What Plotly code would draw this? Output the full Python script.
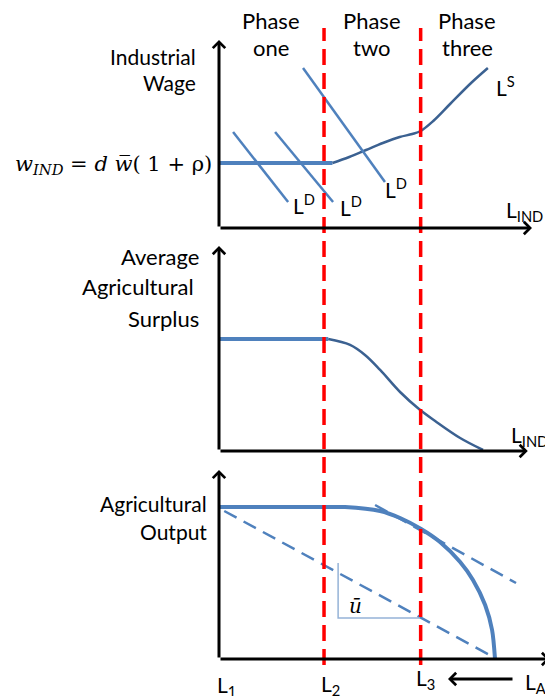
import plotly.graph_objects as go

# ==========================
# DATA  (labour on x, each panel's value on y, 0-100)
# ==========================
L_LABELS = ["L<sub>1</sub>", "L<sub>2</sub>", "L<sub>3</sub>"]
L_POS = [0, 50, 96]
PHASES = ["one", "two", "three"]

# top panel: industrial wage / labour supply & demand
wage_x = [0, 54]
wage_y = [32.5, 32.5]
ls_x = [54, 62, 70, 78, 86, 92, 96, 102, 110, 120, 128]
ls_y = [32.5, 35.5, 39, 42.5, 45.5, 47, 48.5, 53.5, 62, 72.5, 80]
ld_x = [[6.7, 32.9], [26.7, 54.3], [40, 79]]
ld_y = [[48, 13], [48, 13], [80, 23]]

# middle panel: average agricultural surplus
surplus_flat_x = [0, 52]
surplus_flat_y = [53.3, 53.3]
surplus_x = [52, 62.4, 69.5, 76.7, 86.2, 95.2, 102.9, 114.8, 125.7]
surplus_y = [53.3, 50.5, 45.7, 38.6, 28.1, 20, 14.3, 6.2, 0.5]

# bottom panel: agricultural output
output_x = [0, 55, 60, 76.7, 86.2, 96.2, 105.2, 114.8, 120.9, 126.7, 130, 131.4]
output_y = [76, 76, 76, 74, 70.5, 65, 58.5, 48.5, 39.5, 27, 14.5, 0]
avg_x = [2.5, 131.4]
avg_y = [74, 0.5]
tangent_x = [74.3, 141.4]
tangent_y = [77, 38]
tri_x = [56.7, 56.7, 95.7]
tri_y = [48, 20.5, 20.5]

# page body has an 8px margin, so the figure is 8px smaller and shifted
OFF = 8
W, H = 553 - OFF, 696 - OFF
BLUE = '#4f81bd'
DARK = '#3b6191'
FONT = 'Lato'


def px(x):
    return (x - OFF) / W


def py(y):
    return 1 - (y - OFF) / H


fig = go.Figure()

# ==========================
# TOP PANEL
# ==========================
fig.add_trace(go.Scatter(x=wage_x, y=wage_y, mode='lines',
                         line=dict(width=4, color=BLUE), xaxis='x', yaxis='y'))
fig.add_trace(go.Scatter(x=ls_x, y=ls_y, mode='lines',
                         line=dict(width=2.5, color=DARK, shape='spline'),
                         xaxis='x', yaxis='y'))
for xs, ys in zip(ld_x, ld_y):
    fig.add_trace(go.Scatter(x=xs, y=ys, mode='lines',
                             line=dict(width=2.5, color=BLUE), xaxis='x', yaxis='y'))

# ==========================
# MIDDLE PANEL
# ==========================
fig.add_trace(go.Scatter(x=surplus_flat_x, y=surplus_flat_y, mode='lines',
                         line=dict(width=4, color=BLUE), xaxis='x2', yaxis='y2'))
fig.add_trace(go.Scatter(x=surplus_x, y=surplus_y, mode='lines',
                         line=dict(width=2.5, color=DARK, shape='spline'),
                         xaxis='x2', yaxis='y2'))

# ==========================
# BOTTOM PANEL
# ==========================
fig.add_trace(go.Scatter(x=output_x, y=output_y, mode='lines',
                         line=dict(width=4, color=BLUE, shape='spline', smoothing=0.8),
                         xaxis='x3', yaxis='y3'))
fig.add_trace(go.Scatter(x=avg_x, y=avg_y, mode='lines',
                         line=dict(width=2.5, color=BLUE, dash='14px,8px'),
                         xaxis='x3', yaxis='y3'))
fig.add_trace(go.Scatter(x=tangent_x, y=tangent_y, mode='lines',
                         line=dict(width=2.5, color=BLUE, dash='14px,8px'),
                         xaxis='x3', yaxis='y3'))
fig.add_trace(go.Scatter(x=tri_x, y=tri_y, mode='lines',
                         line=dict(width=1.5, color='#95b3d7'),
                         xaxis='x3', yaxis='y3'))

# red phase boundaries across all panels
for lx in L_POS[1:]:
    fig.add_shape(type='line', xref='x', yref='paper', x0=lx, x1=lx,
                  y0=py(665), y1=py(28),
                  line=dict(color='#ff0000', width=3.5, dash='16px,8px'))

# ==========================
# AXES (arrows)
# ==========================
axes_tips = [('x', 'y', 149, 94), ('x2', 'y2', 147, 97.6), ('x3', 'y3', 157.6, 94.5)]
for xr, yr, xt, yt in axes_tips:
    for tip in [(xt, 0), (0, yt)]:
        fig.add_annotation(x=tip[0], y=tip[1], ax=0, ay=0, xref=xr, yref=yr,
                           axref=xr, ayref=yr, text='', showarrow=True,
                           arrowhead=4, arrowsize=0.8, arrowwidth=3, arrowcolor='black')

# L_AG -> L3 arrow
fig.add_annotation(x=px(448), y=py(679), xref='paper', yref='paper', ax=66, ay=0,
                   text='', showarrow=True, arrowhead=4, arrowsize=0.8,
                   arrowwidth=3, arrowcolor='black')


# ==========================
# TEXT
# ==========================
def note(text, x, y, xanchor='center', size=22, family=FONT):
    fig.add_annotation(text=text, x=px(x), y=py(y), xref='paper', yref='paper',
                       xanchor=xanchor, yanchor='middle', showarrow=False,
                       font=dict(family=family, size=size, color='black'))


for name, cx in zip(PHASES, [271, 372, 467]):
    note('Phase', cx, 20)
    note(name, cx, 48)

note('Industrial', 198, 56, 'right', size=21)
note('Wage', 198, 83, 'right', size=21)
note('<i>w</i><sub><i>IND</i></sub> = <i>d</i> <i>w\u0305</i>( 1 + \u03c1)', 214, 165,
     'right', size=21, family='DejaVu Serif')
note('L<sup>D</sup>', 304, 204, size=21)
note('L<sup>D</sup>', 351, 206, size=21)
note('L<sup>D</sup>', 396, 188, size=21)
note('L<sup>S</sup>', 505, 86, size=21)
note('L<sub>IND</sub>', 524, 211, size=21)

note('Average', 201, 257, 'right')
note('Agricultural ', 201, 287, 'right')
note('Surplus', 201, 318, 'right')
note('L<sub>IND</sub>', 529, 436, size=21)

note('Agricultural', 209, 504, 'right', size=21)
note('Output', 209, 531, 'right', size=21)
note('<i>\u016b</i>', 355, 606, size=20, family='DejaVu Serif')

for lab, cx, cy in zip(L_LABELS, [226, 330, 425], [686, 685, 679]):
    note(lab, cx, cy, size=21)
note('L<sub>AG</sub>', 523, 683, 'left', size=21)

# ==========================
# LAYOUT
# ==========================
xdom = [px(219), px(553)]
hidden = dict(visible=False, range=[0, 159], domain=xdom)
fig.update_layout(
    width=W, height=H,
    margin=dict(l=0, r=0, t=0, b=0),
    showlegend=False,
    plot_bgcolor='white',
    paper_bgcolor='white',
    xaxis=dict(hidden, anchor='y'),
    xaxis2=dict(hidden, anchor='y2'),
    xaxis3=dict(hidden, anchor='y3'),
    yaxis=dict(visible=False, range=[0, 100], domain=[py(228), py(28)], anchor='x'),
    yaxis2=dict(visible=False, range=[0, 100], domain=[py(451), py(241)], anchor='x2'),
    yaxis3=dict(visible=False, range=[0, 100], domain=[py(659), py(459)], anchor='x3'),
)

fig.write_html("out.html")
